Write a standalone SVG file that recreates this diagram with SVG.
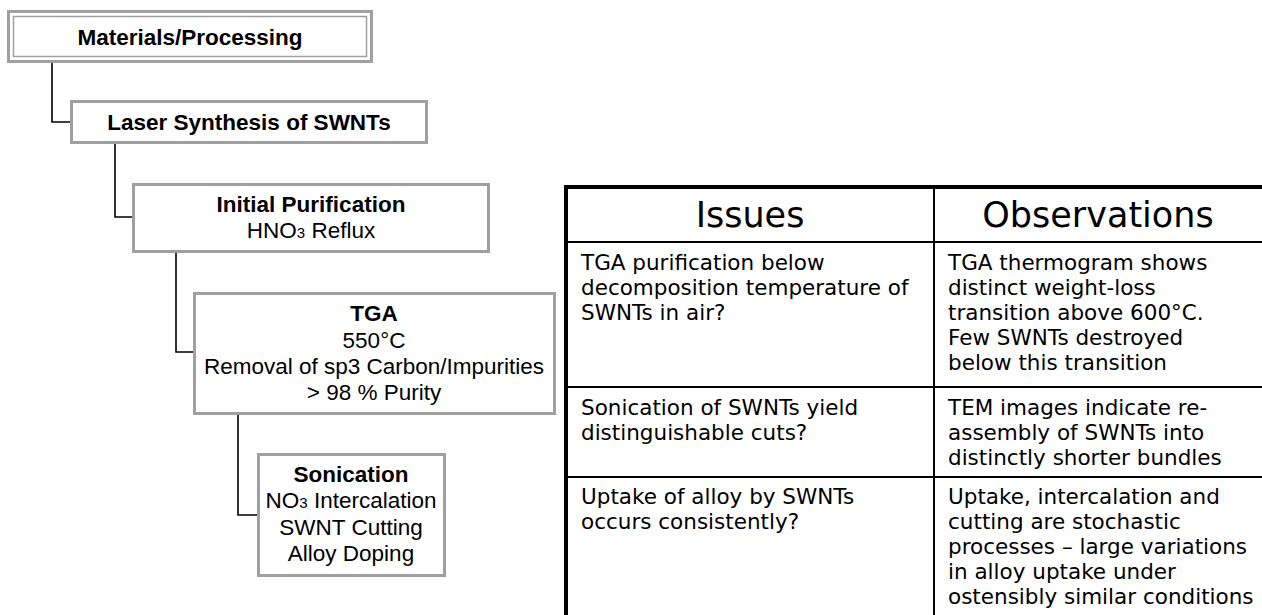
<svg xmlns="http://www.w3.org/2000/svg" width="1262" height="615" viewBox="0 0 1262 615">
  <style>
    .box { fill: #ffffff; stroke: #a0a0a0; stroke-width: 3; }
    .inner { fill: none; stroke: #a0a0a0; stroke-width: 1.5; }
    .lbl { font-family: "Liberation Sans", Arial, sans-serif; font-size: 22.5px; fill: #000; text-anchor: middle; }
    .b { font-weight: bold; }
    .sub { font-size: 15px; }
    .link { fill: none; stroke: #000; stroke-width: 1.6; }
    .rule { stroke: #000; stroke-width: 2; }
    .heavy { stroke: #000; stroke-width: 4; }
    .hd { font-family: "DejaVu Sans", Verdana, sans-serif; font-size: 35px; fill: #000; text-anchor: middle; }
    .cell { font-family: "DejaVu Sans", Verdana, sans-serif; font-size: 21.5px; fill: #000; }
  </style>

  <rect width="1262" height="615" fill="#ffffff"/>

  <!-- connectors of the process tree -->
  <g id="connectors">
    <path class="link" d="M52,63 V122 H70"/>
    <path class="link" d="M115,144 V217 H132"/>
    <path class="link" d="M176,253 V352 H194"/>
    <path class="link" d="M238,415 V515 H257"/>
  </g>

  <g id="materials">
    <rect class="box" x="8.5" y="11.5" width="363" height="50"/>
    <rect class="inner" x="13.5" y="16.5" width="353" height="40"/>
    <text class="lbl b" x="190" y="45">Materials/Processing</text>
  </g>

  <g id="laser">
    <rect class="box" x="71.5" y="101.5" width="355" height="41"/>
    <text class="lbl b" x="249" y="130">Laser Synthesis of SWNTs</text>
  </g>

  <g id="initial-purification">
    <rect class="box" x="133.5" y="184.5" width="355" height="67"/>
    <text class="lbl b" x="311" y="212">Initial Purification</text>
    <text class="lbl" x="311" y="238">HNO<tspan class="sub">3</tspan> Reflux</text>
  </g>

  <g id="tga">
    <rect class="box" x="194.5" y="293.5" width="360" height="120"/>
    <text class="lbl b" x="374" y="321">TGA</text>
    <text class="lbl" x="374" y="348">550°C</text>
    <text class="lbl" x="374" y="374">Removal of sp3 Carbon/Impurities</text>
    <text class="lbl" x="374" y="400">&gt; 98 % Purity</text>
  </g>

  <g id="sonication">
    <rect class="box" x="258.5" y="454.5" width="186" height="121"/>
    <text class="lbl b" x="351" y="482">Sonication</text>
    <text class="lbl" x="351" y="508">NO<tspan class="sub">3</tspan> Intercalation</text>
    <text class="lbl" x="351" y="535">SWNT Cutting</text>
    <text class="lbl" x="351" y="561">Alloy Doping</text>
  </g>

  <!-- issues / observations table -->
  <g id="table">
    <line class="heavy" x1="564" y1="187" x2="1262" y2="187"/>
    <line class="heavy" x1="566" y1="185" x2="566" y2="615"/>
    <line class="rule" x1="566" y1="242" x2="1262" y2="242"/>
    <line class="rule" x1="566" y1="387" x2="1262" y2="387"/>
    <line class="rule" x1="566" y1="477" x2="1262" y2="477"/>
    <line class="rule" x1="934" y1="187" x2="934" y2="615"/>

    <text class="hd" x="750" y="227">Issues</text>
    <text class="hd" x="1098" y="227">Observations</text>

    <text class="cell" x="581" y="270">TGA purification below</text>
    <text class="cell" x="581" y="295">decomposition temperature of</text>
    <text class="cell" x="581" y="320">SWNTs in air?</text>

    <text class="cell" x="948" y="270">TGA thermogram shows</text>
    <text class="cell" x="948" y="295">distinct weight-loss</text>
    <text class="cell" x="948" y="320">transition above 600°C.</text>
    <text class="cell" x="948" y="345">Few SWNTs destroyed</text>
    <text class="cell" x="948" y="370">below this transition</text>

    <text class="cell" x="581" y="415">Sonication of SWNTs yield</text>
    <text class="cell" x="581" y="440">distinguishable cuts?</text>

    <text class="cell" x="948" y="415">TEM images indicate re-</text>
    <text class="cell" x="948" y="440">assembly of SWNTs into</text>
    <text class="cell" x="948" y="465">distinctly shorter bundles</text>

    <text class="cell" x="581" y="504">Uptake of alloy by SWNTs</text>
    <text class="cell" x="581" y="529">occurs consistently?</text>

    <text class="cell" x="948" y="504">Uptake, intercalation and</text>
    <text class="cell" x="948" y="529">cutting are stochastic</text>
    <text class="cell" x="948" y="554">processes – large variations</text>
    <text class="cell" x="948" y="579">in alloy uptake under</text>
    <text class="cell" x="948" y="604">ostensibly similar conditions</text>
  </g>
</svg>
